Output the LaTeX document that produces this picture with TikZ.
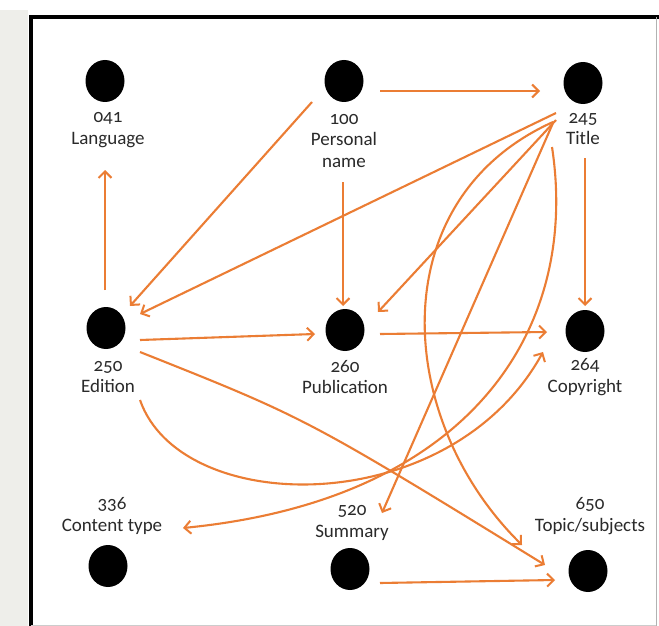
\documentclass[tikz,border=0pt]{standalone}
\usepackage{fontspec}
\setmainfont{Carlito}[Numbers=OldStyle]
\usetikzlibrary{arrows.meta,calc}
\definecolor{edgeor}{HTML}{EB7D34}
\definecolor{txtgray}{HTML}{2A2A2A}
\definecolor{sidegray}{HTML}{EEEEEA}
\tikzset{
  dot/.style={ellipse, fill=black, minimum width=39pt, minimum height=42pt, inner sep=0pt},
  lbl/.style={align=center, font=\fontsize{19}{21.5}\selectfont, text=txtgray, inner sep=0pt},
  link/.style={draw=edgeor, line width=2.1pt, -{Straight Barb[length=6.5pt,width=13pt,line width=2pt]}}
}
\usetikzlibrary{shapes.geometric}
\begin{document}
\begin{tikzpicture}[x=1pt,y=-1pt]
\useasboundingbox (0,0) rectangle (659,626);
% background and frame
\fill[white] (0,0) rectangle (659,626);
\fill[sidegray] (0,10) rectangle (28,626);
\fill[white] (31,17) rectangle (656,626);
\draw[black, line width=3.5pt] (31,626) -- (31,17) -- (659,17);
\draw[gray!60, line width=1pt] (656,17) -- (656,626);
\draw[gray!40, line width=0.8pt] (31,625) -- (656,625);

% dots
\node[dot] (d041) at (105,81) {};
\node[dot] (d100) at (344,81) {};
\node[dot] (d245) at (583,83) {};
\node[dot] (d250) at (106,328) {};
\node[dot] (d260) at (345,330) {};
\node[dot] (d264) at (585,331) {};
\node[dot] (d336) at (108,566) {};
\node[dot] (d520) at (350,569) {};
\node[dot] (d650) at (588,571) {};

% labels
\node[lbl] (l041) at (108,130) {041\\Language};
\node[lbl] (l100) at (344,141) {100\\Personal\\name};
\node[lbl] (l245) at (583,129) {245\\Title};
\node[lbl] (l250) at (108,377) {250\\Edition};
\node[lbl] (l260) at (345,377) {260\\Publication};
\node[lbl] (l264) at (585,377) {264\\Copyright};
\node[lbl] (l336) at (112,516) {336\\Content type};
\node[lbl] (l520) at (352,523) {520\\Summary};
\node[lbl] (l650) at (590,516) {650\\Topic/subjects};

% connectors
\draw[link] ($(d100)+(36,10)$) -- ($(d245)+(-43,8)$);
\draw[link] ($(d100)+(-32,21)$) -- ($(d250)+(24,-22)$);
\draw[link] ($(d100)+(-1,101)$) -- ($(d260)+(-2,-24)$);
\draw[link] ($(d245)+(-27,30)$) -- ($(d250)+(34,-14)$);
\draw[link] ($(d245)+(-27,37)$) -- ($(d260)+(33,-18)$);
\draw[link] ($(d245)+(2,75)$) -- ($(d264)+(0,-25)$);
\draw[link] ($(d250)+(-1,-38)$) -- ($(d041)+(0,89)$);
\draw[link] ($(d250)+(34,12)$) -- ($(d260)+(-30,4)$);
\draw[link] ($(d260)+(35,4)$) -- ($(d264)+(-38,1)$);
\draw[link] ($(d250)+(34,24)$) .. controls ($(d250)+(200,90)$) .. ($(d650)+(-43,-6)$);
\draw[link] ($(d250)+(34,72)$) .. controls ($(d250)+(75,190)$) and ($(d264)+(-135,190)$) .. ($(d264)+(-42,21)$);
\draw[link] ($(d245)+(-31,64)$) .. controls ($(d245)+(-3,247)$) and ($(d336)+(362,-66)$) .. ($(d336)+(75,-38)$);
\draw[link] ($(d245)+(-30,39)$) .. controls ($(d245)+(-203,117)$) and ($(d650)+(-193,-151)$) .. ($(d650)+(-66,-26)$);
\draw[link] ($(d245)+(-30,40)$) -- ($(d520)+(32,-56)$);
\draw[link] ($(d520)+(30,14)$) -- ($(d650)+(-33,9)$);
\end{tikzpicture}
\end{document}
